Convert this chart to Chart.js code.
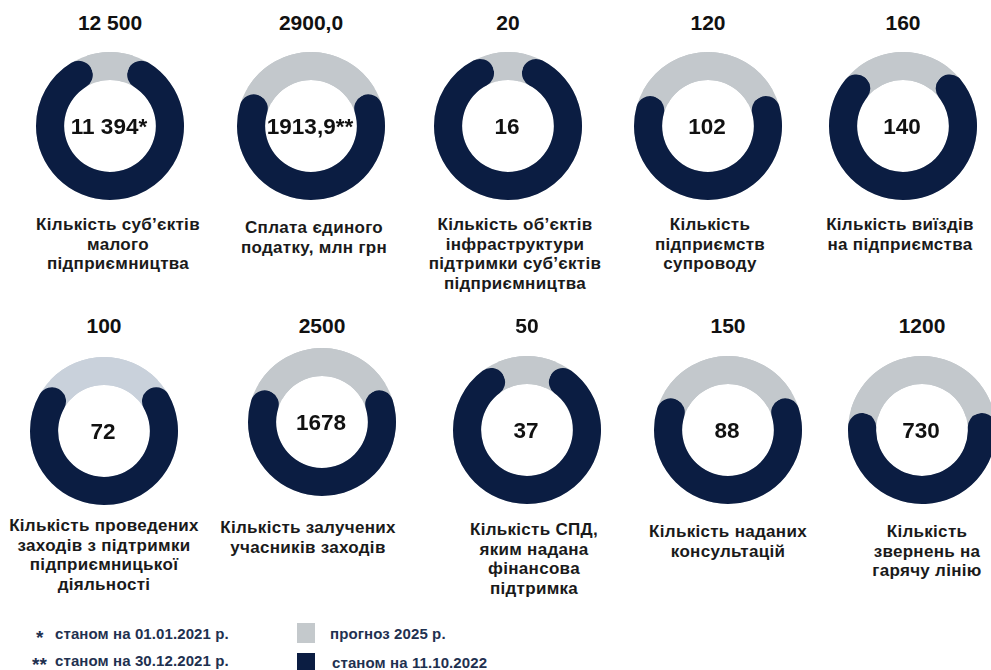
<!DOCTYPE html>
<html>
<head>
<meta charset="utf-8">
<script src="https://cdn.jsdelivr.net/npm/chart.js@4.4.0/dist/chart.umd.min.js"></script>
<style>
    body { margin: 0; background: #fff; width: 991px; height: 670px; overflow: hidden; position: relative;
           font-family: "Liberation Sans", Arial, sans-serif; font-weight: bold; }
    .val { position: absolute; font-size: 21px; color: #111; transform: translate(-50%, -50%); white-space: nowrap; line-height: 1; }
    .centro { font-size: 22.5px; }
    .ring { position: absolute; width: 148px; height: 148px; }
    .lbl { position: absolute; font-size: 17px; letter-spacing: 0.3px; color: #1a1a1a; text-align: center; line-height: 19.5px; transform: translateX(-50%); white-space: nowrap; }
    .leg { position: absolute; font-size: 15px; letter-spacing: 0.1px; color: #1f3150; white-space: nowrap; line-height: 1; transform: translateY(-50%); }
    .quad { position: absolute; width: 18px; height: 20px; }
</style>
</head>
<body>

<script>
const prognoz2025 = ['12 500', '2900,0', '20', '120', '160', '100', '2500', '50', '150', '1200']
const valorAtual = ['11 394*', '1913,9**', '16', '102', '140', '72', '1678', '37', '88', '730']
// parte escura do anel (%) como desenhada na figura
const parteEscura = [90, 67, 92, 66, 79, 74, 67, 87, 67, 59]
const rotulos = [
    ['Кількість суб’єктів', 'малого', 'підприємництва'],
    ['Сплата єдиного', 'податку, млн грн'],
    ['Кількість об’єктів', 'інфраструктури', 'підтримки суб’єктів', 'підприємництва'],
    ['Кількість', 'підприємств', 'супроводу'],
    ['Кількість виїздів', 'на підприємства'],
    ['Кількість проведених', 'заходів з підтримки', 'підприємницької', 'діяльності'],
    ['Кількість залучених', 'учасників заходів'],
    ['Кількість СПД,', 'яким надана', 'фінансова', 'підтримка'],
    ['Кількість наданих', 'консультацій'],
    ['Кількість', 'звернень на', 'гарячу лінію']
]

// layout
const centroX = [110, 311, 508, 708, 903, 104, 322, 527, 728, 922]
const centroY = [126, 126, 126, 126, 126, 431, 422, 430, 430, 430]
const topoY = [22, 22, 22, 22, 22, 325, 325, 325, 325, 325]
const rotuloX = [118, 314, 515, 710, 900, 104, 308, 534, 728, 927]
const rotuloY = [225, 228, 225, 225, 225, 526, 528, 530, 532, 532]

const corEscura = '#0b1d42'
const corCinza = ['#c3c8cc', '#c3c8cc', '#c3c8cc', '#c3c8cc', '#c3c8cc', '#c9d1db', '#c3c8cc', '#c3c8cc', '#c3c8cc', '#c3c8cc']

// anel cinza de fundo, para as pontas arredondadas ficarem sobre ele
const anelFundo = {
    id: 'anelFundo',
    beforeDatasetsDraw(chart, args, opts) {
        const arco = chart.getDatasetMeta(0).data[0]
        const ctx = chart.ctx
        ctx.save()
        ctx.beginPath()
        ctx.arc(arco.x, arco.y, arco.outerRadius, 0, Math.PI * 2)
        ctx.arc(arco.x, arco.y, arco.innerRadius, 0, Math.PI * 2, true)
        ctx.fillStyle = opts.cor
        ctx.fill()
        ctx.restore()
    }
}

function criarTexto(classe, texto, x, y) {
    let el = document.createElement('div')
    el.className = classe
    el.textContent = texto
    el.style.left = x + 'px'
    el.style.top = y + 'px'
    document.body.appendChild(el)
    return el
}

for (let i = 0; i < valorAtual.length; i++) {
    let caixa = document.createElement('div')
    caixa.className = 'ring'
    caixa.style.left = (centroX[i] - 74) + 'px'
    caixa.style.top = (centroY[i] - 74) + 'px'
    let canvas = document.createElement('canvas')
    caixa.appendChild(canvas)
    document.body.appendChild(caixa)

    let escura = parteEscura[i]
    new Chart(canvas, {
        type: 'doughnut',
        data: {
            labels: ['станом на 11.10.2022', 'прогноз 2025 р.'],
            datasets: [{
                data: [escura, 100 - escura],
                backgroundColor: [corEscura, corCinza[i]],
                borderWidth: 0,
                borderRadius: [30, 0]
            }]
        },
        options: {
            responsive: true,
            maintainAspectRatio: false,
            animation: false,
            cutout: '62%',
            rotation: 180 - escura * 1.8,
            events: [],
            plugins: {
                legend: { display: false },
                tooltip: { enabled: false },
                anelFundo: { cor: corCinza[i] }
            }
        },
        plugins: [anelFundo]
    })

    criarTexto('val', prognoz2025[i], centroX[i], topoY[i])
    criarTexto('val centro', valorAtual[i], centroX[i] - 1, centroY[i] + 1)

    let rot = document.createElement('div')
    rot.className = 'lbl'
    rot.innerHTML = rotulos[i].join('<br>')
    rot.style.left = rotuloX[i] + 'px'
    rot.style.top = (rotuloY[i] - 10) + 'px'
    document.body.appendChild(rot)
}

// legenda
criarTexto('leg', '*', 36, 637).style.fontSize = '19px'
criarTexto('leg', 'станом на 01.01.2021 р.', 55, 633)
criarTexto('leg', '**', 32, 664).style.fontSize = '19px'
criarTexto('leg', 'станом на 30.12.2021 р.', 55, 660)
let q1 = criarTexto('quad', '', 297, 623)
q1.style.background = '#c4c9cc'
criarTexto('leg', 'прогноз 2025 р.', 330, 633)
let q2 = criarTexto('quad', '', 297, 653)
q2.style.background = corEscura
criarTexto('leg', 'станом на 11.10.2022', 332, 662)
</script>
</body>
</html>
